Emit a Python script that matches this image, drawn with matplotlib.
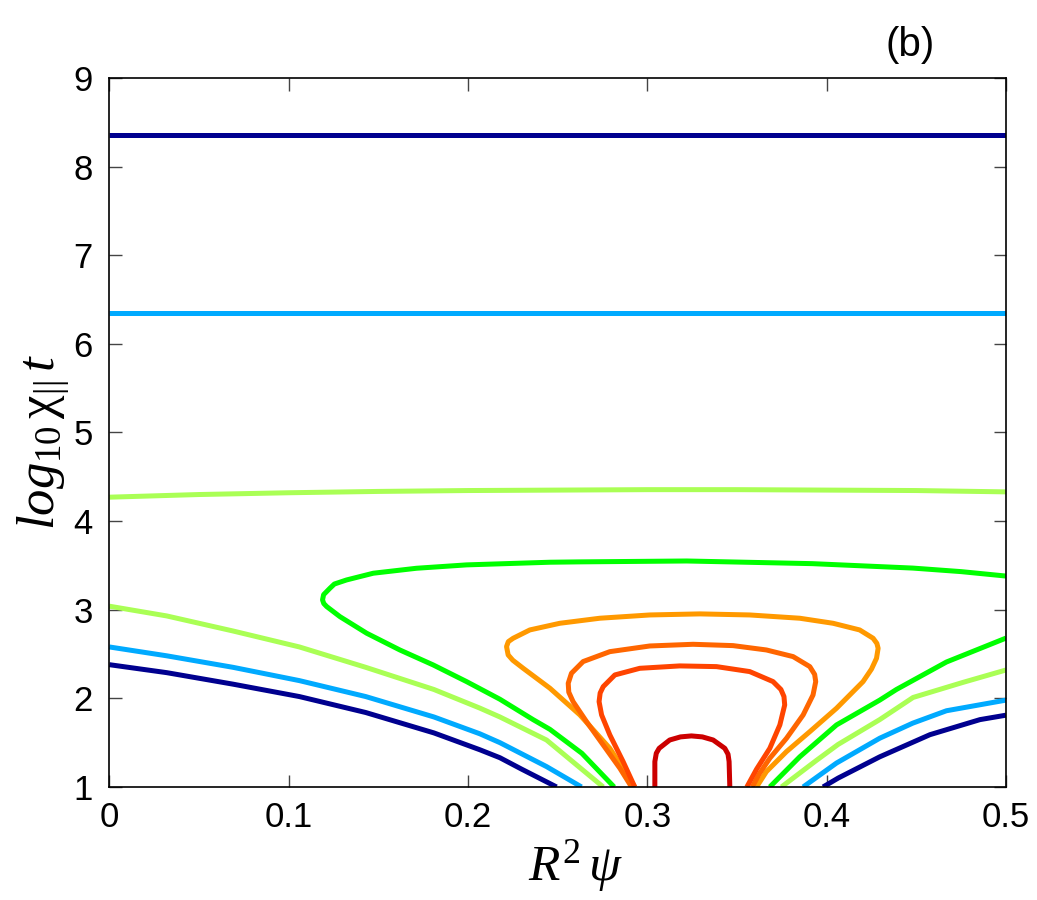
import numpy as np
import matplotlib.pyplot as plt

# contour lines (x = R^2 psi, y = log10 chi t)
navy_top_x = [0.0, 0.5]
navy_top_y = [8.36, 8.36]
blue_top_x = [0.0, 0.5]
blue_top_y = [6.35, 6.35]
lgreen_top_x = [0.0, 0.05, 0.1, 0.15, 0.2, 0.25, 0.3, 0.35, 0.4, 0.45, 0.5]
lgreen_top_y = [4.27, 4.30, 4.32, 4.335, 4.345, 4.35, 4.355, 4.355, 4.35, 4.345, 4.33]

navy_left_x = [0.0, 0.032, 0.069, 0.106, 0.143, 0.181, 0.2066, 0.2178, 0.23, 0.2494]
navy_left_y = [2.38, 2.29, 2.16, 2.02, 1.84, 1.61, 1.42, 1.33, 1.20, 1.0]
navy_right_x = [0.398, 0.4064, 0.4296, 0.4576, 0.4855, 0.5]
navy_right_y = [1.0, 1.10, 1.34, 1.59, 1.76, 1.81]

blue_left_x = [0.0, 0.032, 0.069, 0.106, 0.143, 0.181, 0.2066, 0.2178, 0.2438, 0.2633]
blue_left_y = [2.58, 2.48, 2.35, 2.20, 2.02, 1.79, 1.60, 1.50, 1.23, 1.0]
blue_right_x = [0.3869, 0.4055, 0.4296, 0.448, 0.4668, 0.5]
blue_right_y = [1.0, 1.27, 1.55, 1.72, 1.86, 1.98]

lgreen_left_x = [0.0, 0.032, 0.069, 0.106, 0.143, 0.181, 0.2066, 0.2178, 0.2438, 0.2754]
lgreen_left_y = [3.04, 2.93, 2.76, 2.58, 2.35, 2.10, 1.89, 1.79, 1.53, 1.0]
lgreen_right_x = [0.3748, 0.3943, 0.4064, 0.4296, 0.4482, 0.476, 0.5]
lgreen_right_y = [1.0, 1.30, 1.48, 1.76, 2.01, 2.18, 2.32]

green_nose_x = [0.5, 0.475, 0.448, 0.392, 0.322, 0.262, 0.2457, 0.1992, 0.1713, 0.1472,
                0.1323, 0.1255, 0.1230, 0.1195, 0.1189, 0.1196, 0.1212, 0.1286, 0.1435,
                0.1620, 0.1806, 0.1992, 0.2178, 0.2363, 0.2457, 0.2635, 0.2815]
green_nose_y = [3.38, 3.43, 3.47, 3.52, 3.55, 3.54, 3.536, 3.506, 3.468, 3.412,
                3.336, 3.29, 3.242, 3.17, 3.111, 3.07, 3.036, 2.922, 2.735,
                2.546, 2.377, 2.189, 1.99, 1.76, 1.65, 1.38, 1.0]
green_right_x = [0.3683, 0.385, 0.4055, 0.4296, 0.4389, 0.4668, 0.5]
green_right_y = [1.0, 1.34, 1.70, 1.98, 2.10, 2.41, 2.68]

orange_x = [0.2930, 0.2791, 0.2624, 0.2457, 0.2308, 0.2250, 0.2224, 0.2215, 0.2225,
            0.2252, 0.2345, 0.2512, 0.2735, 0.3014, 0.3293, 0.3571, 0.3850, 0.4036,
            0.4184, 0.4259, 0.4280, 0.4287, 0.4278, 0.4250, 0.4203, 0.4055, 0.3906,
            0.3776, 0.3664, 0.3609]
orange_y = [1.0, 1.436, 1.813, 2.114, 2.339, 2.43, 2.490, 2.584, 2.64,
            2.678, 2.772, 2.847, 2.904, 2.941, 2.953, 2.941, 2.904, 2.847,
            2.772, 2.678, 2.62, 2.565, 2.452, 2.33, 2.189, 1.888, 1.624,
            1.399, 1.173, 1.0]

orangered_x = [0.2912, 0.2847, 0.2754, 0.2661, 0.2586, 0.2562, 0.2559, 0.2577, 0.2642,
               0.2791, 0.3014, 0.3255, 0.3478, 0.3664, 0.3813, 0.3906, 0.3933, 0.3939,
               0.3924, 0.3869, 0.3776, 0.3683, 0.3625, 0.3585]
orangered_y = [1.0, 1.211, 1.474, 1.737, 1.963, 2.07, 2.170, 2.283, 2.415,
               2.527, 2.591, 2.610, 2.595, 2.546, 2.471, 2.358, 2.27, 2.189,
               2.038, 1.813, 1.549, 1.324, 1.15, 1.0]

redorange_x = [0.2930, 0.2865, 0.2791, 0.2745, 0.2731, 0.2737, 0.2754, 0.2819, 0.2958,
               0.3181, 0.3386, 0.3571, 0.3701, 0.3745, 0.3762, 0.3766, 0.3739, 0.3683,
               0.3609, 0.3555]
redorange_y = [1.0, 1.286, 1.587, 1.813, 1.963, 2.06, 2.132, 2.264, 2.339,
               2.366, 2.358, 2.302, 2.189, 2.10, 2.02, 1.925, 1.700, 1.436,
               1.2, 1.0]

darkred_x = [0.3042, 0.3042, 0.3050, 0.3066, 0.3125, 0.3185, 0.3246, 0.3307, 0.3367,
             0.3432, 0.3450, 0.3456, 0.3460]
darkred_y = [1.0, 1.286, 1.38, 1.436, 1.530, 1.565, 1.576, 1.565, 1.530,
             1.436, 1.37, 1.286, 1.0]

curves = [
    (navy_top_x, navy_top_y, '#00008F'),
    (blue_top_x, blue_top_y, '#00AAFF'),
    (lgreen_top_x, lgreen_top_y, '#AAFF55'),
    (navy_left_x, navy_left_y, '#00008F'),
    (navy_right_x, navy_right_y, '#00008F'),
    (blue_left_x, blue_left_y, '#00AAFF'),
    (blue_right_x, blue_right_y, '#00AAFF'),
    (lgreen_left_x, lgreen_left_y, '#AAFF55'),
    (lgreen_right_x, lgreen_right_y, '#AAFF55'),
    (green_nose_x, green_nose_y, '#00FF00'),
    (green_right_x, green_right_y, '#00FF00'),
    (orange_x, orange_y, '#FF9900'),
    (orangered_x, orangered_y, '#FF6600'),
    (redorange_x, redorange_y, '#FF4400'),
    (darkred_x, darkred_y, '#CC0000'),
]

plt.rcParams['font.family'] = ['Liberation Sans', 'DejaVu Sans']
plt.rcParams['mathtext.fontset'] = 'custom'
plt.rcParams['mathtext.rm'] = 'Liberation Serif'
plt.rcParams['mathtext.it'] = 'Liberation Serif:italic'

fig = plt.figure(figsize=(10.37, 9), dpi=100)
ax = fig.add_axes([0.1054, 0.1256, 0.8647, 0.7877])

for cx, cy, col in curves:
    ax.plot(cx, cy, color=col, lw=3.6, solid_capstyle='butt', solid_joinstyle='round')

ax.set_xlim(0, 0.5)
ax.set_ylim(1, 9)
ax.set_xticks([0, 0.1, 0.2, 0.3, 0.4, 0.5])
ax.set_xticklabels(['0', '0.1', '0.2', '0.3', '0.4', '0.5'])
ax.set_yticks(range(1, 10))
ax.tick_params(direction='in', length=9, width=1, colors='#444444', labelcolor='black',
               labelsize=25, top=True, right=True)
ax.tick_params(axis='x', pad=10)
ax.tick_params(axis='y', pad=12)
for s in ax.spines.values():
    s.set_linewidth(1.2)

ax.set_xlabel(r'$R^{2}\,\psi$', fontsize=37)
ax.xaxis.set_label_coords(0.52, -0.072)
ax.set_ylabel(r'$log_{10}\,\mathrm{\chi}_{||}\,t$', fontsize=38)
ax.yaxis.set_label_coords(-0.042, 0.487)

fig.text(0.878, 0.95, '(b)', fontsize=29, ha='center', va='center')

fig.savefig('out.png', dpi=100)
